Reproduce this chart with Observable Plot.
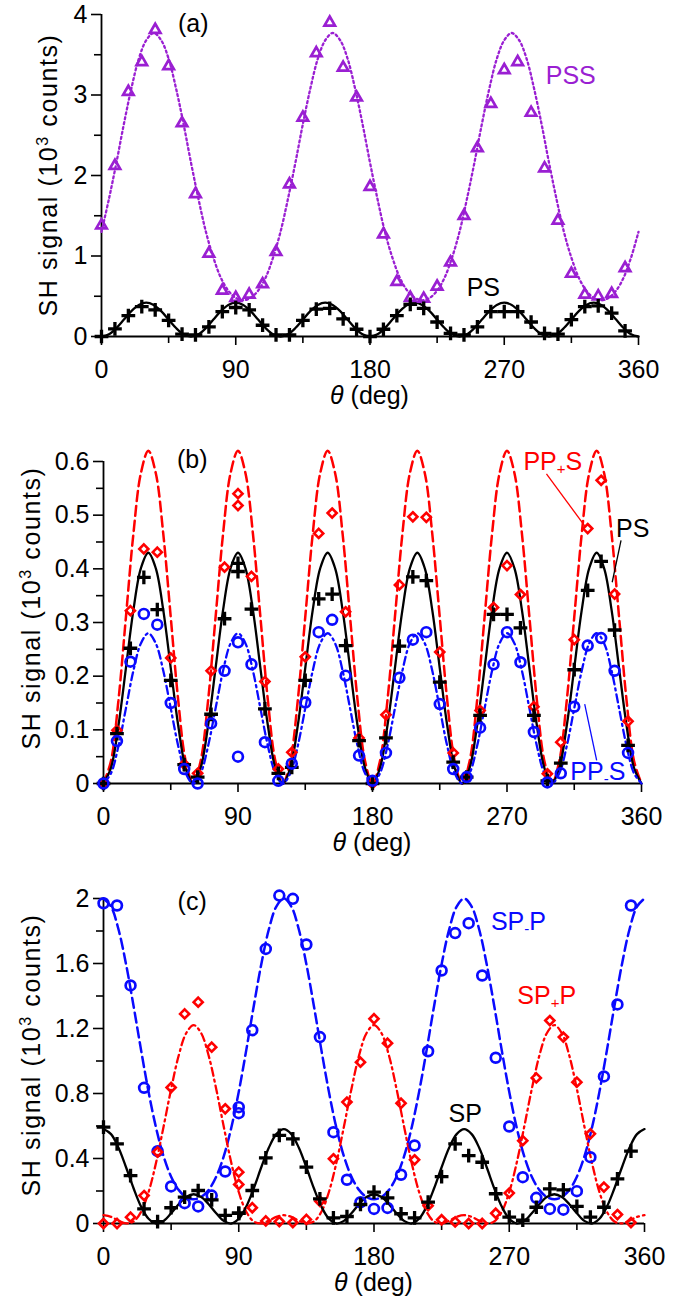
<!DOCTYPE html>
<html><head><meta charset="utf-8">
<script src="https://cdn.jsdelivr.net/npm/d3@7"></script>
<script src="https://cdn.jsdelivr.net/npm/@observablehq/plot@0.6"></script>
<style>
body{margin:0;background:#fff;}
#chart{width:692px;}
#chart svg{display:block;}
</style></head><body><div id="chart"></div>
<script>
// ---------- data ----------
const xMajor = [0, 90, 180, 270, 360];
const xMinor = [45, 135, 225, 315];

// measured angles (9 deg steps; (b) and (c) have two points at 90)
const thetaA = [0,9,18,27,36,45,54,63,72,81,90,99,108,117,126,135,144,153,162,171,180,189,198,207,216,225,234,243,252,261,270,279,288,297,306,315,324,333,342,351];
const thetaB = [0,9,18,27,36,45,54,63,72,81,90,90,99,108,117,126,135,144,153,162,171,180,189,198,207,216,225,234,243,252,261,270,279,288,297,306,315,324,333,342,351];
const thetaC = thetaB;

// panel (a)
const pssA = [1.38,2.12,3.04,3.41,3.81,3.36,2.65,1.77,1.03,0.57,0.48,0.52,0.65,1.05,1.89,2.72,3.52,3.90,3.34,2.97,1.86,1.27,0.68,0.48,0.47,0.62,0.92,1.50,2.34,2.89,3.31,3.41,2.78,2.09,1.44,0.78,0.52,0.50,0.53,0.85];
const psA = [0,0.095,0.26,0.37,0.33,0.20,0.03,0.02,0.12,0.31,0.36,0.33,0.14,0.02,0.02,0.20,0.34,0.35,0.22,0.09,0,0.09,0.26,0.40,0.35,0.18,0.04,0.02,0.12,0.31,0.31,0.31,0.18,0.04,0.03,0.21,0.37,0.38,0.29,0.07];

// panel (b)
const ppPlusS = [0,0.099,0.322,0.437,0.431,0.234,0.036,0.019,0.21,0.403,0.54,0.518,0.386,0.19,0.027,0.058,0.236,0.466,0.504,0.32,0.085,0,0.128,0.37,0.497,0.496,0.245,0.057,0.011,0.136,0.328,0.406,0.352,0.143,0.018,0.077,0.268,0.475,0.565,0.353,0.116];
const psB = [0,0.093,0.252,0.384,0.324,0.192,0.035,0.012,0.129,0.307,0.41,0.395,0.325,0.139,0.019,0.03,0.192,0.344,0.353,0.257,0.08,0,0.085,0.256,0.385,0.378,0.189,0.04,0.012,0.127,0.315,0.315,0.29,0.127,0.005,0.038,0.212,0.36,0.414,0.286,0.071];
const ppMinusS = [0,0.079,0.227,0.316,0.296,0.150,0.027,0,0.112,0.21,0.263,0.05,0.222,0.077,0.005,0.037,0.151,0.282,0.305,0.201,0.052,0.005,0.057,0.197,0.268,0.282,0.148,0.027,0.012,0.104,0.222,0.282,0.226,0.096,0.002,0.019,0.143,0.257,0.271,0.21,0.057];

// panel (c)
const spMinusP = [1.971,1.957,1.465,0.835,0.445,0.228,0.125,0.105,0.172,0.32,0.716,0.679,1.19,1.69,2.018,1.998,1.717,1.147,0.562,0.269,0.131,0.09,0.096,0.30,0.48,1.06,1.557,1.787,1.848,1.526,1.02,0.597,0.285,0.158,0.09,0.085,0.199,0.408,0.905,1.348,1.957];
const spPlusP = [0,0,0.039,0.172,0.44,0.837,1.29,1.362,1.085,0.706,0.316,0.24,0.097,0.016,0.012,0.006,0.025,0.137,0.398,0.747,0.993,1.26,1.11,0.74,0.392,0.11,0.023,0.01,0,0,0.063,0.187,0.51,0.896,1.249,1.147,0.87,0.552,0.224,0.055,0.006];
const spC = [0.593,0.49,0.295,0.09,0.012,0.097,0.162,0.203,0.146,0.05,0.063,0.063,0.203,0.404,0.542,0.521,0.347,0.152,0.035,0.043,0.117,0.193,0.158,0.06,0.035,0.131,0.289,0.49,0.418,0.377,0.183,0.039,0.02,0.1,0.213,0.207,0.105,0.039,0.1,0.275,0.445];

// fitted curves, read every 5 deg
const thetaFit = [0,5,10,15,20,25,30,35,40,45,50,55,60,65,70,75,80,85,90,95,100,105,110,115,120,125,130,135,140,145,150,155,160,165,170,175,180,185,190,195,200,205,210,215,220,225,230,235,240,245,250,255,260,265,270,275,280,285,290,295,300,305,310,315,320,325,330,335,340,345,350,355,360];
const pssFit = [1.30,1.71,2.16,2.64,3.08,3.45,3.68,3.77,3.68,3.45,3.08,2.64,2.16,1.71,1.30,0.98,0.73,0.57,0.48,0.45,0.48,0.57,0.73,0.98,
  1.30,1.71,2.16,2.64,3.08,3.45,3.68,3.77,3.68,3.45,3.08,2.64,2.16,1.71,1.30,0.98,0.73,0.57,0.48,0.45,0.48,0.57,0.73,0.98,
  1.30,1.71,2.16,2.64,3.08,3.45,3.68,3.77,3.68,3.45,3.08,2.64,2.16,1.71,1.30,0.98,0.73,0.57,0.48,0.45,0.48,0.57,0.73,0.98,1.30];
const psFitA = [0,0.028,0.105,0.21,0.315,0.392,0.42,0.392,0.315,0.21,0.105,0.028,
  0,0.028,0.105,0.21,0.315,0.392,0.42,0.392,0.315,0.21,0.105,0.028,
  0,0.028,0.105,0.21,0.315,0.392,0.42,0.392,0.315,0.21,0.105,0.028,
  0,0.028,0.105,0.21,0.315,0.392,0.42,0.392,0.315,0.21,0.105,0.028,
  0,0.028,0.105,0.21,0.315,0.392,0.42,0.392,0.315,0.21,0.105,0.028,
  0,0.028,0.105,0.21,0.315,0.392,0.42,0.392,0.315,0.21,0.105,0.028,0];
const ppPlusSFit = [0,0.042,0.155,0.31,0.465,0.578,0.62,0.578,0.465,0.31,0.155,0.042,
  0,0.042,0.155,0.31,0.465,0.578,0.62,0.578,0.465,0.31,0.155,0.042,
  0,0.042,0.155,0.31,0.465,0.578,0.62,0.578,0.465,0.31,0.155,0.042,
  0,0.042,0.155,0.31,0.465,0.578,0.62,0.578,0.465,0.31,0.155,0.042,
  0,0.042,0.155,0.31,0.465,0.578,0.62,0.578,0.465,0.31,0.155,0.042,
  0,0.042,0.155,0.31,0.465,0.578,0.62,0.578,0.465,0.31,0.155,0.042,0];
const psFitB = [0,0.029,0.108,0.215,0.323,0.401,0.43,0.401,0.323,0.215,0.108,0.029,
  0,0.029,0.108,0.215,0.323,0.401,0.43,0.401,0.323,0.215,0.108,0.029,
  0,0.029,0.108,0.215,0.323,0.401,0.43,0.401,0.323,0.215,0.108,0.029,
  0,0.029,0.108,0.215,0.323,0.401,0.43,0.401,0.323,0.215,0.108,0.029,
  0,0.029,0.108,0.215,0.323,0.401,0.43,0.401,0.323,0.215,0.108,0.029,
  0,0.029,0.108,0.215,0.323,0.401,0.43,0.401,0.323,0.215,0.108,0.029,0];
const ppMinusSFit = [0,0.019,0.07,0.14,0.21,0.261,0.28,0.261,0.21,0.14,0.07,0.019,
  0,0.019,0.07,0.14,0.21,0.261,0.28,0.261,0.21,0.14,0.07,0.019,
  0,0.019,0.07,0.14,0.21,0.261,0.28,0.261,0.21,0.14,0.07,0.019,
  0,0.019,0.07,0.14,0.21,0.261,0.28,0.261,0.21,0.14,0.07,0.019,
  0,0.019,0.07,0.14,0.21,0.261,0.28,0.261,0.21,0.14,0.07,0.019,
  0,0.019,0.07,0.14,0.21,0.261,0.28,0.261,0.21,0.14,0.07,0.019,0];
const spFit = [0.581,0.550,0.466,0.346,0.217,0.104,0.029,0.000,0.016,0.063,0.119,0.163,0.180,0.163,0.119,0.063,0.016,0.000,0.029,0.104,0.217,0.346,0.466,0.550,
  0.581,0.550,0.466,0.346,0.217,0.104,0.029,0.000,0.016,0.063,0.119,0.163,0.180,0.163,0.119,0.063,0.016,0.000,0.029,0.104,0.217,0.346,0.466,0.550,
  0.581,0.550,0.466,0.346,0.217,0.104,0.029,0.000,0.016,0.063,0.119,0.163,0.180,0.163,0.119,0.063,0.016,0.000,0.029,0.104,0.217,0.346,0.466,0.550,0.581];
const spMinusPFit = [2.000,1.950,1.809,1.596,1.339,1.067,0.810,0.588,0.413,0.288,0.207,0.163,0.149,0.163,0.207,0.288,0.413,0.588,0.810,1.067,1.339,1.596,1.809,1.950,
  2.000,1.950,1.809,1.596,1.339,1.067,0.810,0.588,0.413,0.288,0.207,0.163,0.149,0.163,0.207,0.288,0.413,0.588,0.810,1.067,1.339,1.596,1.809,1.950,
  2.000,1.950,1.809,1.596,1.339,1.067,0.810,0.588,0.413,0.288,0.207,0.163,0.149,0.163,0.207,0.288,0.413,0.588,0.810,1.067,1.339,1.596,1.809,1.950,2.000];
const spPlusPFit = [0.051,0.041,0.018,0.001,0.012,0.072,0.194,0.375,0.597,0.828,1.032,1.171,1.221,1.171,1.032,0.828,0.597,0.375,0.194,0.072,0.012,0.001,0.018,0.041,
  0.051,0.041,0.018,0.001,0.012,0.072,0.194,0.375,0.597,0.828,1.032,1.171,1.221,1.171,1.032,0.828,0.597,0.375,0.194,0.072,0.012,0.001,0.018,0.041,
  0.051,0.041,0.018,0.001,0.012,0.072,0.194,0.375,0.597,0.828,1.032,1.171,1.221,1.171,1.032,0.828,0.597,0.375,0.194,0.072,0.012,0.001,0.018,0.041,0.051];

// tick values
const yTicksA = [0, 1, 2, 3, 4], yMinorA = [0.5, 1.5, 2.5, 3.5];
const yTicksB = [0, 0.1, 0.2, 0.3, 0.4, 0.5, 0.6], yMinorB = [0.05, 0.15, 0.25, 0.35, 0.45, 0.55];
const yTicksC = [0, 0.4, 0.8, 1.2, 1.6, 2], yMinorC = [0.2, 0.6, 1.0, 1.4, 1.8];

// annotations (data units)
const labelsA = [
  {t: 61.5, v: 3.88, s: "(a)", c: "black", a: "middle"},
  {t: 297.8, v: 3.23, s: "PSS", c: "purple", a: "start"},
  {t: 244.8, v: 0.60, s: "PS", c: "black", a: "start"}
];
const labelsB = [
  {t: 59.4, v: 0.602, s: "(b)", c: "black", a: "middle"},
  {t: 281, v: 0.60, s: "PP+S", c: "red", a: "start"},
  {t: 343, v: 0.474, s: "PS", c: "black", a: "start"},
  {t: 312.4, v: 0.021, s: "PP-S", c: "blue", a: "start"}
];
const leadersB = [
  {t1: 296.4, v1: 0.577, t2: 322, v2: 0.48, c: "red"},
  {t1: 346.3, v1: 0.453, t2: 340.4, v2: 0.375, c: "black"},
  {t1: 322, v1: 0.148, t2: 330, v2: 0.043, c: "blue"}
];
const labelsC = [
  {t: 59, v: 1.98, s: "(c)", c: "black", a: "middle"},
  {t: 257.8, v: 1.855, s: "SP-P", c: "blue", a: "start"},
  {t: 275.4, v: 1.397, s: "SP+P", c: "red", a: "start"},
  {t: 229.6, v: 0.674, s: "SP", c: "black", a: "start"}
];

// ---------- styles ----------
const FONT = "'Liberation Sans', Arial, sans-serif";
const COL = {purple: "#9a1fd2", red: "#ff0000", blue: "#0a0aff", black: "#000000"};

function curve(vals, stroke, dash, w = 2.2) {
  return Plot.line(vals, {x: thetaFit, y: d => d, stroke, strokeWidth: w, strokeDasharray: dash, curve: "catmull-rom"});
}
function dots(vals, theta, kind, color) {
  const o = {x: theta, y: d => d, stroke: color, fill: "none"};
  if (kind === "plus") return Plot.dot(vals, {...o, symbol: "plus", r: 4.5, strokeWidth: 3.3});
  if (kind === "triangle") return Plot.dot(vals, {...o, symbol: "triangle", r: 3.9, strokeWidth: 2.7});
  if (kind === "circle") return Plot.dot(vals, {...o, symbol: "circle", r: 4.9, strokeWidth: 2.7});
  return Plot.dot(vals, {...o, symbol: "diamond2", r: 4.1, strokeWidth: 2.6});
}
function labelMarks(labels) {
  return labels.map(l => Plot.text([l], {x: "t", y: "v", text: "s", fill: COL[l.c], textAnchor: l.a, lineAnchor: "middle", fontSize: 25}));
}

function panel(cfg) {
  const {height, ml, mr, mt, mb, ydom, ymaj, ymin, marks, yTitleX, yTitleY} = cfg;
  const svg = Plot.plot({
    width: 692, height, marginLeft: ml, marginRight: mr, marginTop: mt, marginBottom: mb,
    x: {domain: [0, 360]},
    y: {domain: ydom},
    style: {fontFamily: FONT, fontSize: "25px", color: "black", background: "white", overflow: "visible"},
    marks: [
      Plot.ruleY([0], {x1: 0, x2: 360, strokeWidth: 1.8}),
      Plot.ruleX([0], {y1: 0, y2: ydom[1], strokeWidth: 1.8}),
      Plot.axisX(xMajor, {tickSize: 9, tickPadding: 15, strokeWidth: 1.6, label: null, tickFormat: d => String(d)}),
      Plot.axisX(xMinor, {tickSize: 7, strokeWidth: 1.6, label: null, tickFormat: () => ""}),
      Plot.axisY(ymaj, {tickSize: 10, tickPadding: 4, strokeWidth: 1.6, label: null, tickFormat: d => String(d)}),
      Plot.axisY(ymin, {tickSize: 7, strokeWidth: 1.6, label: null, tickFormat: () => ""}),
      ...marks
    ]
  });
  const s = d3.select(svg);
  const axisY = height - mb;
  const xt = s.append("text").attr("x", (ml + 692 - mr) / 2).attr("y", axisY + 68)
    .attr("text-anchor", "middle").attr("font-size", 25).attr("fill", "black");
  xt.append("tspan").attr("font-style", "italic").text("θ");
  xt.append("tspan").text(" (deg)");
  const yt = s.append("text").attr("transform", `translate(${yTitleX},${yTitleY}) rotate(-90)`)
    .attr("text-anchor", "middle").attr("font-size", 25).attr("letter-spacing", "1.6px").attr("fill", "black");
  yt.append("tspan").text("SH signal (10");
  yt.append("tspan").attr("font-size", 16).attr("dy", -9).text("3");
  yt.append("tspan").attr("dy", 9).text(" counts)");
  // subscripts in labels
  s.selectAll("text").each(function() {
    const t = this.textContent;
    const m = /^(PP|SP)([+-])(S|P)$/.exec(t);
    if (m && this.childNodes.length === 1) {
      const el = d3.select(this);
      el.text("");
      el.append("tspan").text(m[1]);
      el.append("tspan").attr("font-size", 15).attr("dy", 4).text(m[2]);
      el.append("tspan").attr("dy", -4).text(m[3]);
    }
  });
  document.getElementById("chart").appendChild(svg);
}

panel({
  height: 400, ml: 101, mr: 54, mt: 14, mb: 64, ydom: [0, 4], ymaj: yTicksA, ymin: yMinorA,
  yTitleX: 57, yTitleY: 175,
  marks: [
    curve(pssFit, COL.purple, "2,3", 2.3),
    curve(psFitA, COL.black, null, 2.3),
    dots(pssA, thetaA, "triangle", COL.purple),
    dots(psA, thetaA, "plus", COL.black),
    ...labelMarks(labelsA)
  ]
});

panel({
  height: 450, ml: 103, mr: 51, mt: 61, mb: 67, ydom: [0, 0.6], ymaj: yTicksB, ymin: yMinorB,
  yTitleX: 40, yTitleY: 208,
  marks: [
    curve(ppPlusSFit, COL.red, "10,5", 2.5),
    curve(psFitB, COL.black, null, 2.3),
    curve(ppMinusSFit, COL.blue, "8,4,2,4", 2.3),
    dots(ppPlusS, thetaB, "diamond", COL.red),
    dots(psB, thetaB, "plus", COL.black),
    dots(ppMinusS, thetaB, "circle", COL.blue),
    ...leadersB.map(l => Plot.link([l], {x1: "t1", y1: "v1", x2: "t2", y2: "v2", stroke: COL[l.c], strokeWidth: 1.3})),
    ...labelMarks(labelsB)
  ]
});

panel({
  height: 451, ml: 103, mr: 48, mt: 48, mb: 78, ydom: [0, 2], ymaj: yTicksC, ymin: yMinorC,
  yTitleX: 40, yTitleY: 205,
  marks: [
    curve(spMinusPFit, COL.blue, "10,5", 2.5),
    curve(spPlusPFit, COL.red, "8,4,2,4", 2.3),
    curve(spFit, COL.black, null, 2.3),
    dots(spMinusP, thetaC, "circle", COL.blue),
    dots(spPlusP, thetaC, "diamond", COL.red),
    dots(spC, thetaC, "plus", COL.black),
    ...labelMarks(labelsC)
  ]
});
</script>
</body></html>
